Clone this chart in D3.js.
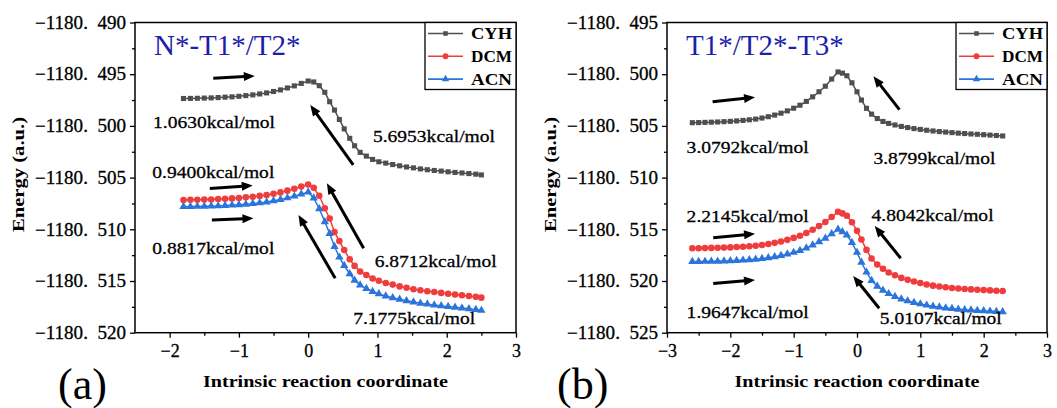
<!DOCTYPE html>
<html><head><meta charset="utf-8">
<script src="https://cdn.jsdelivr.net/npm/d3@7/dist/d3.min.js"></script>
<style>body{margin:0;background:#fff}svg{display:block}</style>
</head><body><svg id="c" width="1057" height="408"></svg>
<script>
// ---------- data ----------
const seriesNames = ["CYH", "DCM", "ACN"];

// Panel (a): N*-T1*/T2*
const ircA = [-1.8,-1.7,-1.6,-1.5,-1.4,-1.3,-1.2,-1.1,-1.0,-0.9,-0.8,-0.7,-0.6,-0.5,-0.4,-0.3,-0.2,-0.1,0,
  0.08,0.16,0.24,0.31,0.38,0.45,0.52,0.60,0.67,0.75,0.84,0.93,1.02,1.12,1.22,1.32,1.42,1.52,1.62,1.72,1.82,1.92,2.02,2.12,2.22,2.32,2.42,2.50];
const cyhA = [-1180.49735,-1180.49734,-1180.49733,-1180.49731,-1180.49729,-1180.49726,-1180.49722,-1180.49719,-1180.49714,-1180.49707,-1180.49700,-1180.49691,-1180.49681,-1180.49667,-1180.49652,-1180.49633,-1180.49613,-1180.49589,-1180.49566,
  -1180.49575,-1180.49611,-1180.49675,-1180.49766,-1180.49847,-1180.49938,-1180.50029,-1180.50120,-1180.50192,-1180.50256,-1180.50292,-1180.50324,-1180.50347,-1180.50360,-1180.50374,-1180.50386,-1180.50397,-1180.50406,-1180.50416,-1180.50424,-1180.50431,-1180.50437,-1180.50444,-1180.50450,-1180.50455,-1180.50461,-1180.50467,-1180.50474];
const dcmA = [-1180.50716,-1180.50715,-1180.50714,-1180.50713,-1180.50711,-1180.50708,-1180.50705,-1180.50701,-1180.50697,-1180.50691,-1180.50685,-1180.50677,-1180.50668,-1180.50656,-1180.50643,-1180.50626,-1180.50608,-1180.50587,-1180.50566,
  -1180.50599,-1180.50676,-1180.50796,-1180.50895,-1180.51026,-1180.51114,-1180.51201,-1180.51289,-1180.51354,-1180.51409,-1180.51442,-1180.51475,-1180.51497,-1180.51519,-1180.51535,-1180.51552,-1180.51566,-1180.51579,-1180.51590,-1180.51599,-1180.51607,-1180.51615,-1180.51623,-1180.51630,-1180.51637,-1180.51645,-1180.51652,-1180.51661];
const acnA = [-1180.50781,-1180.50780,-1180.50779,-1180.50778,-1180.50776,-1180.50774,-1180.50771,-1180.50767,-1180.50763,-1180.50758,-1180.50752,-1180.50745,-1180.50736,-1180.50725,-1180.50712,-1180.50697,-1180.50680,-1180.50660,-1180.50641,
  -1180.50698,-1180.50801,-1180.50927,-1180.51041,-1180.51167,-1180.51270,-1180.51350,-1180.51430,-1180.51493,-1180.51539,-1180.51573,-1180.51602,-1180.51625,-1180.51645,-1180.51662,-1180.51677,-1180.51691,-1180.51704,-1180.51715,-1180.51724,-1180.51733,-1180.51741,-1180.51748,-1180.51755,-1180.51762,-1180.51769,-1180.51777,-1180.51785];

// Panel (b): T1*/T2*-T3*
const ircB = [-2.6,-2.5,-2.4,-2.3,-2.2,-2.1,-2.0,-1.9,-1.8,-1.7,-1.6,-1.5,-1.4,-1.3,-1.2,-1.1,-1.0,-0.9,-0.8,-0.7,-0.6,-0.5,-0.4,-0.3,
  -0.23,-0.16,-0.08,0,0.07,0.15,0.23,0.32,0.41,0.5,0.6,0.7,0.8,0.9,1.0,1.1,1.2,1.3,1.4,1.5,1.6,1.7,1.8,1.9,2.0,2.1,2.2,2.3];
const cyhB = [-1180.50469,-1180.50468,-1180.50466,-1180.50464,-1180.50462,-1180.50459,-1180.50456,-1180.50452,-1180.50447,-1180.50441,-1180.50434,-1180.50424,-1180.50411,-1180.50395,-1180.50377,-1180.50355,-1180.50329,-1180.50300,-1180.50263,-1180.50219,-1180.50170,-1180.50116,-1180.50047,-1180.49978,
  -1180.49990,-1180.50015,-1180.50083,-1180.50170,-1180.50250,-1180.50330,-1180.50386,-1180.50429,-1180.50457,-1180.50476,-1180.50491,-1180.50505,-1180.50516,-1180.50526,-1180.50534,-1180.50542,-1180.50549,-1180.50555,-1180.50560,-1180.50565,-1180.50570,-1180.50574,-1180.50578,-1180.50581,-1180.50585,-1180.50589,-1180.50593,-1180.50597];
const dcmB = [-1180.51684,-1180.51683,-1180.51682,-1180.51680,-1180.51679,-1180.51677,-1180.51675,-1180.51672,-1180.51668,-1180.51664,-1180.51659,-1180.51652,-1180.51642,-1180.51631,-1180.51618,-1180.51602,-1180.51583,-1180.51562,-1180.51536,-1180.51504,-1180.51469,-1180.51430,-1180.51381,-1180.51331,
  -1180.51346,-1180.51369,-1180.51431,-1180.51515,-1180.51599,-1180.51699,-1180.51783,-1180.51840,-1180.51882,-1180.51917,-1180.51944,-1180.51970,-1180.51989,-1180.52005,-1180.52020,-1180.52034,-1180.52045,-1180.52054,-1180.52061,-1180.52068,-1180.52073,-1180.52078,-1180.52081,-1180.52085,-1180.52088,-1180.52091,-1180.52094,-1180.52097];
const acnB = [-1180.51813,-1180.51812,-1180.51811,-1180.51810,-1180.51809,-1180.51807,-1180.51805,-1180.51802,-1180.51799,-1180.51795,-1180.51790,-1180.51784,-1180.51776,-1180.51766,-1180.51754,-1180.51740,-1180.51724,-1180.51705,-1180.51681,-1180.51653,-1180.51622,-1180.51588,-1180.51544,-1180.51500,
  -1180.51524,-1180.51556,-1180.51628,-1180.51724,-1180.51819,-1180.51915,-1180.51995,-1180.52051,-1180.52091,-1180.52123,-1180.52151,-1180.52175,-1180.52193,-1180.52208,-1180.52222,-1180.52234,-1180.52244,-1180.52253,-1180.52261,-1180.52267,-1180.52273,-1180.52278,-1180.52282,-1180.52286,-1180.52289,-1180.52292,-1180.52295,-1180.52299];

// ticks
const xTicksA = [-2, -1, 0, 1, 2, 3];
const xMinorA = [-1.5, -0.5, 0.5, 1.5, 2.5];
const yTicksA = [-1180.490, -1180.495, -1180.500, -1180.505, -1180.510, -1180.515, -1180.520];
const xTicksB = [-3, -2, -1, 0, 1, 2, 3];
const xMinorB = [-2.5, -1.5, -0.5, 0.5, 1.5, 2.5];
const yTicksB = [-1180.495, -1180.500, -1180.505, -1180.510, -1180.515, -1180.520, -1180.525];

// annotations: barrier texts [text, x, energy at baseline]
const labelsA = [
  ["1.0630kcal/mol", -2.24, -1180.50023],
  ["5.6953kcal/mol", 0.935, -1180.50153],
  ["0.9400kcal/mol", -2.25, -1180.50507],
  ["0.8817kcal/mol", -2.25, -1180.51239],
  ["6.8712kcal/mol", 0.96, -1180.51367],
  ["7.1775kcal/mol", 0.65, -1180.51918]
];
const labelsB = [
  ["3.0792kcal/mol", -2.69, -1180.50759],
  ["3.8799kcal/mol", 0.26, -1180.50868],
  ["2.2145kcal/mol", -2.69, -1180.51426],
  ["4.8042kcal/mol", 0.23, -1180.51417],
  ["1.9647kcal/mol", -2.69, -1180.52360],
  ["5.0107kcal/mol", 0.36, -1180.52416]
];
// arrows: [x1, E1, x2, E2] (tail -> head)
const arrowsA = [
  [-1.37, -1180.49540, -0.77, -1180.49517],
  [0.65, -1180.50378, 0.03, -1180.49798],
  [-1.42, -1180.50605, -0.80, -1180.50576],
  [-1.39, -1180.50910, -0.79, -1180.50893],
  [0.80, -1180.51184, 0.27, -1180.50555],
  [0.39, -1180.51474, -0.14, -1180.50862]
];
const arrowsB = [
  [-2.28, -1180.50266, -1.61, -1180.50223],
  [0.67, -1180.50343, 0.26, -1180.50020],
  [-2.27, -1180.51582, -1.61, -1180.51543],
  [-2.27, -1180.52025, -1.61, -1180.51990],
  [0.69, -1180.51780, 0.28, -1180.51468],
  [0.35, -1180.52264, -0.06, -1180.51951]
];

// ---------- drawing ----------
const svg = d3.select("#c");
const SERIF = "'Liberation Serif','Times New Roman',serif";
const colors = {CYH: "#4f4f4f", DCM: "#ef3d3d", ACN: "#2a74dc"};
const symbols = {CYH: d3.symbolSquare, DCM: d3.symbolCircle, ACN: d3.symbolTriangle};
const symSize = {CYH: 26, DCM: 34, ACN: 30};
const TOP = 22.5, BOTTOM = 332.7;

function fmtY(d) {
  const s = Math.abs(d).toFixed(3).split(".");
  return "\u2212" + s[0] + ".\u2002" + s[1];
}
function fmtX(d) { return d < 0 ? "\u2212" + Math.abs(d) : String(d); }

function drawPanel(p) {
  const g = svg.append("g");
  const x = d3.scaleLinear().domain(p.xDomain).range([p.left, p.right]);
  const y = d3.scaleLinear().domain(p.yDomain).range([BOTTOM, TOP]);

  // axes
  const gx = g.append("g").attr("transform", `translate(0,${BOTTOM})`)
    .call(d3.axisBottom(x).tickValues(p.xTicks).tickSize(5).tickSizeOuter(0).tickPadding(4).tickFormat(fmtX));
  g.append("g").attr("transform", `translate(0,${BOTTOM})`)
    .call(d3.axisBottom(x).tickValues(p.xMinor).tickSize(3).tickSizeOuter(0).tickFormat(""));
  const gy = g.append("g").attr("transform", `translate(${p.left},0)`)
    .call(d3.axisLeft(y).tickValues(p.yTicks).tickSize(5).tickSizeOuter(0).tickPadding(4).tickFormat(fmtY));
  const yMinor = p.yTicks.slice(1).map((t, i) => (t + p.yTicks[i]) / 2);
  g.append("g").attr("transform", `translate(${p.left},0)`)
    .call(d3.axisLeft(y).tickValues(yMinor).tickSize(3).tickSizeOuter(0).tickFormat(""));
  g.selectAll(".domain").remove();
  g.selectAll(".tick line").attr("stroke", "#000").attr("stroke-width", 1.3);
  g.selectAll(".tick text").attr("font-family", SERIF).attr("font-size", 18).attr("fill", "#000")
    .attr("stroke", "#000").attr("stroke-width", 0.3);
  gy.selectAll(".tick text").attr("textLength", 91).attr("lengthAdjust", "spacingAndGlyphs");
  gx.selectAll(".tick text").attr("dy", "0.85em");

  // frame
  g.append("rect").attr("x", p.left).attr("y", TOP)
    .attr("width", p.right - p.left).attr("height", BOTTOM - TOP)
    .attr("fill", "none").attr("stroke", "#000").attr("stroke-width", 1.5);

  // series
  const data = {CYH: p.cyh, DCM: p.dcm, ACN: p.acn};
  seriesNames.forEach(name => {
    const pts = p.irc.map((v, i) => [v, data[name][i]]);
    g.append("path").datum(pts)
      .attr("d", d3.line().x(d => x(d[0])).y(d => y(d[1])))
      .attr("fill", "none").attr("stroke", colors[name]).attr("stroke-width", 1.5);
    g.append("g").selectAll("path").data(pts).join("path")
      .attr("transform", d => `translate(${x(d[0])},${y(d[1])})`)
      .attr("d", d3.symbol().type(symbols[name]).size(symSize[name]))
      .attr("fill", colors[name]);
  });

  // title
  g.append("text").attr("x", p.left + 19).attr("y", 55)
    .attr("font-family", SERIF).attr("font-size", 29).attr("fill", "#1e1ea8")
    .text(p.title);

  // barrier labels
  g.append("g").selectAll("text").data(p.labels).join("text")
    .attr("x", d => x(d[1])).attr("y", d => y(d[2]))
    .attr("font-family", SERIF).attr("font-size", 17.5).attr("fill", "#000")
    .attr("stroke", "#000").attr("stroke-width", 0.3)
    .attr("textLength", 122).attr("lengthAdjust", "spacingAndGlyphs")
    .text(d => d[0]);

  // arrows
  p.arrows.forEach(a => {
    const x1 = x(a[0]), y1 = y(a[1]), x2 = x(a[2]), y2 = y(a[3]);
    const L = Math.hypot(x2 - x1, y2 - y1), ux = (x2 - x1) / L, uy = (y2 - y1) / L;
    const hl = 11, hw = 4.5;
    const bx = x2 - ux * hl, by = y2 - uy * hl;
    g.append("line").attr("x1", x1).attr("y1", y1).attr("x2", bx + ux * 1).attr("y2", by + uy * 1)
      .attr("stroke", "#000").attr("stroke-width", 3);
    g.append("path")
      .attr("d", `M${x2},${y2}L${bx - uy * hw},${by + ux * hw}L${bx + uy * hw},${by - ux * hw}Z`)
      .attr("fill", "#000");
  });

  // legend
  const lw = 91, lh = 67;
  const lg = g.append("g").attr("transform", `translate(${p.right - lw},${TOP})`);
  lg.append("rect").attr("width", lw).attr("height", lh)
    .attr("fill", "#fff").attr("stroke", "#000").attr("stroke-width", 1.3);
  seriesNames.forEach((name, i) => {
    const yy = 11 + i * 22.8;
    lg.append("line").attr("x1", 3).attr("x2", 38).attr("y1", yy).attr("y2", yy)
      .attr("stroke", colors[name]).attr("stroke-width", 1.6);
    lg.append("path").attr("transform", `translate(20.5,${yy})`)
      .attr("d", d3.symbol().type(symbols[name]).size(symSize[name] * 0.8)).attr("fill", colors[name]);
    lg.append("text").attr("x", 46).attr("y", yy).attr("dy", "0.35em")
      .attr("font-family", SERIF).attr("font-weight", "bold").attr("font-size", 16)
      .attr("textLength", 41).attr("lengthAdjust", "spacingAndGlyphs")
      .text(name);
  });

  // axis titles
  g.append("text").attr("x", (p.left + p.right) / 2).attr("y", 387)
    .attr("text-anchor", "middle").attr("font-family", SERIF).attr("font-weight", "bold")
    .attr("font-size", 17.5).attr("textLength", 245).attr("lengthAdjust", "spacingAndGlyphs")
    .text("Intrinsic reaction coordinate");
  g.append("text").attr("transform", `translate(${p.left - 111},174.5) rotate(-90)`)
    .attr("text-anchor", "middle").attr("font-family", SERIF).attr("font-weight", "bold")
    .attr("font-size", 16).attr("textLength", 115).attr("lengthAdjust", "spacingAndGlyphs")
    .text("Energy (a.u.)");

  // panel letter
  g.append("text").attr("x", p.letterX).attr("y", 399)
    .attr("font-family", SERIF).attr("font-size", 44).attr("fill", "#000")
    .text(p.letter);
}

drawPanel({
  left: 135, right: 516, xDomain: [-2.5, 3], yDomain: [-1180.520, -1180.490],
  xTicks: xTicksA, xMinor: xMinorA, yTicks: yTicksA,
  irc: ircA, cyh: cyhA, dcm: dcmA, acn: acnA,
  title: "N*-T1*/T2*", labels: labelsA, arrows: arrowsA, letter: "(a)", letterX: 58
});
drawPanel({
  left: 667, right: 1047, xDomain: [-3, 3], yDomain: [-1180.525, -1180.495],
  xTicks: xTicksB, xMinor: xMinorB, yTicks: yTicksB,
  irc: ircB, cyh: cyhB, dcm: dcmB, acn: acnB,
  title: "T1*/T2*-T3*", labels: labelsB, arrows: arrowsB, letter: "(b)", letterX: 557
});
</script></body></html>
